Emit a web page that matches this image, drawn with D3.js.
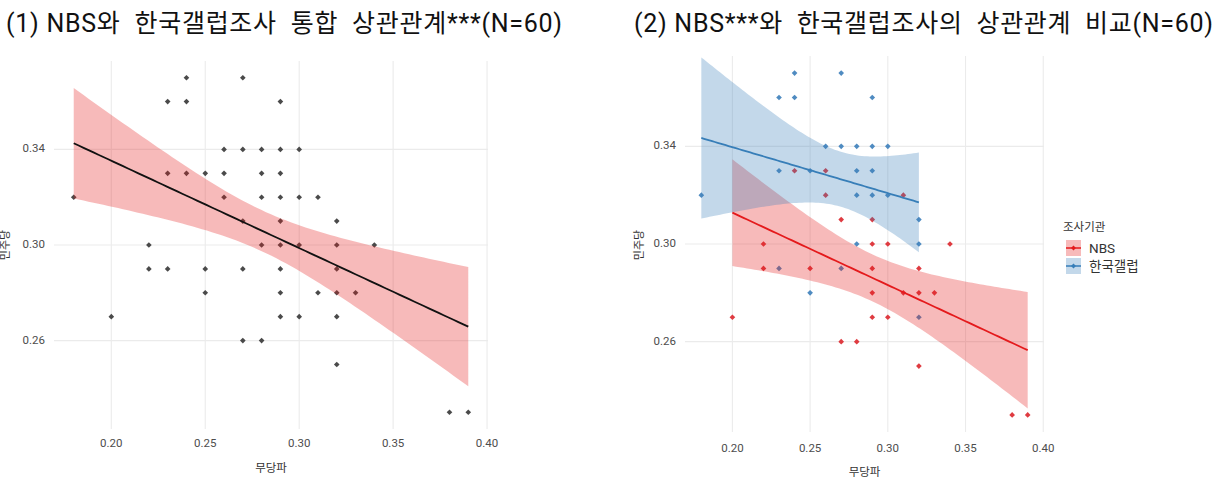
<!DOCTYPE html>
<html><head><meta charset="utf-8">
<script src="https://cdn.jsdelivr.net/npm/d3@7"></script>
<style>
body{margin:0;background:#fff;}
svg{display:block;font-family:Roboto,"Noto Sans CJK KR",sans-serif;}
</style></head>
<body><svg id="c" width="1222" height="481"></svg>
<script>
// 무당파 (x) and 민주당 (y) per survey
const nbsX = [0.24,0.26,0.26,0.31,0.27,0.29,0.22,0.29,0.30,0.34,0.22,0.25,0.29,0.32,0.29,0.31,0.32,0.33,0.20,0.29,0.30,0.27,0.28,0.32,0.38,0.39];
const nbsY = [0.33,0.33,0.32,0.32,0.31,0.31,0.30,0.30,0.30,0.30,0.29,0.29,0.29,0.29,0.28,0.28,0.28,0.28,0.27,0.27,0.27,0.26,0.26,0.25,0.23,0.23];
const galX = [0.24,0.27,0.23,0.24,0.29,0.26,0.27,0.28,0.29,0.30,0.23,0.25,0.28,0.29,0.18,0.28,0.29,0.30,0.32,0.28,0.32,0.23,0.27,0.25,0.32];
const galY = [0.37,0.37,0.36,0.36,0.36,0.34,0.34,0.34,0.34,0.34,0.33,0.33,0.33,0.33,0.32,0.32,0.32,0.32,0.31,0.30,0.30,0.29,0.29,0.28,0.27];
const groups = ["NBS","한국갤럽"];
const xTicks = [0.20,0.25,0.30,0.35,0.40];
const yTicks = [0.26,0.30,0.34];
const titles = ["(1) NBS와  한국갤럽조사  통합  상관관계***(N=60)","(2) NBS***와  한국갤럽조사의  상관관계  비교(N=60)"];

const svg = d3.select("#c");
const RED="#E41A1C", BLUE="#377EB8";

function tq(df){ // 0.975 quantile of t
  const z=1.959964;
  return z+(z**3+z)/(4*df)+(5*z**5+16*z**3+3*z)/(96*df*df)+(3*z**7+19*z**5+17*z**3-15*z)/(384*df**3);
}
function fit(xs,ys){
  const n=xs.length, mx=d3.mean(xs), my=d3.mean(ys);
  let sxx=0,sxy=0; xs.forEach((x,i)=>{sxx+=(x-mx)**2; sxy+=(x-mx)*(ys[i]-my);});
  const b=sxy/sxx, a=my-b*mx;
  let sse=0; xs.forEach((x,i)=>{sse+=(ys[i]-a-b*x)**2;});
  const s=Math.sqrt(sse/(n-2)), t=tq(n-2);
  const [x0,x1]=d3.extent(xs);
  return d3.range(0,81).map(k=>{const x=x0+(x1-x0)*k/80; const y=a+b*x; const se=s*Math.sqrt(1/n+(x-mx)**2/sxx); return {x,y,lo:y-t*se,hi:y+t*se};});
}

function panel(px0,px1,py0,py1,opts){
  const x=d3.scaleLinear().domain([0.1695,0.4005]).range([px0,px1]);
  const y=d3.scaleLinear().domain([0.223,0.377]).range([py1,py0]);
  const g=svg.append("g");
  g.selectAll(".gx").data(xTicks).join("line").attr("x1",d=>x(d)).attr("x2",d=>x(d)).attr("y1",py0).attr("y2",py1).attr("stroke","#ebebeb").attr("stroke-width",1.1);
  g.selectAll(".gy").data(yTicks).join("line").attr("x1",px0).attr("x2",px1).attr("y1",d=>y(d)).attr("y2",d=>y(d)).attr("stroke","#ebebeb").attr("stroke-width",1.1);
  g.selectAll(".tx").data(xTicks).join("text").attr("x",d=>x(d)).attr("y",py1+opts.tickDy).attr("text-anchor","middle").attr("dominant-baseline","middle").attr("font-size",11.5).attr("fill","#4d4d4d").text(d=>d3.format(".2f")(d));
  g.selectAll(".ty").data(yTicks).join("text").attr("x",px0-9).attr("y",d=>y(d)).attr("text-anchor","end").attr("dominant-baseline","middle").attr("font-size",11.5).attr("fill","#4d4d4d").text(d=>d3.format(".2f")(d));
  g.append("text").attr("x",(px0+px1)/2).attr("y",opts.xTitleY).attr("text-anchor","middle").attr("dominant-baseline","middle").attr("font-size",11.5).attr("fill","#333").text("무당파");
  g.append("text").attr("transform",`translate(${opts.yTitleX},245) rotate(-90)`).attr("text-anchor","middle").attr("dominant-baseline","middle").attr("font-size",11).attr("fill","#333").text("민주당");
  const diamond=d3.symbol().type(d3.symbolSquare).size(16);
  opts.series.forEach(s=>{
    g.append("g").selectAll("path").data(s.xs.map((v,i)=>[v,s.ys[i]])).join("path")
      .attr("d",diamond).attr("transform",d=>`translate(${x(d[0])},${y(d[1])}) rotate(45)`).attr("fill",s.pt);
  });
  opts.series.forEach(s=>{
    const f=fit(s.fx,s.fy);
    g.append("path").datum(f).attr("d",d3.area().x(d=>x(d.x)).y0(d=>y(d.lo)).y1(d=>y(d.hi))).attr("fill",s.band).attr("fill-opacity",0.3);
  });
  opts.series.forEach(s=>{
    const f=fit(s.fx,s.fy);
    g.append("path").datum(f).attr("d",d3.line().x(d=>x(d.x)).y(d=>y(d.y))).attr("fill","none").attr("stroke",s.line).attr("stroke-width",1.8);
  });
}

const allX=nbsX.concat(galX), allY=nbsY.concat(galY);
panel(54,488,61,429,{tickDy:15,xTitleY:469,yTitleX:6,series:[
  {xs:allX,ys:allY,fx:allX,fy:allY,pt:"#4a4a4a",band:RED,line:"#111"}]});
panel(685,1044,56,432,{tickDy:17,xTitleY:473,yTitleX:640,series:[
  {xs:nbsX,ys:nbsY,fx:nbsX,fy:nbsY,pt:"#df3b41",band:RED,line:RED},
  {xs:galX,ys:galY,fx:galX,fy:galY,pt:"#4f8bc1",band:BLUE,line:BLUE}]});

// titles
svg.append("text").attr("x",6).attr("y",32).attr("font-size",25).attr("fill","#111").attr("textLength",556).attr("lengthAdjust","spacing").style("white-space","pre").text(titles[0]);
svg.append("text").attr("x",634).attr("y",32).attr("font-size",25).attr("fill","#111").attr("textLength",579).attr("lengthAdjust","spacing").style("white-space","pre").text(titles[1]);

// legend
const lg=svg.append("g");
lg.append("text").attr("x",1063).attr("y",228).attr("dominant-baseline","middle").attr("font-size",11.5).attr("fill","#333").text("조사기관");
const cols=[RED,BLUE];
groups.forEach((gname,i)=>{
  const cy=248+i*18;
  lg.append("rect").attr("x",1066).attr("y",cy-8).attr("width",15).attr("height",16).attr("fill",cols[i]).attr("fill-opacity",0.3);
  lg.append("line").attr("x1",1066).attr("x2",1081).attr("y1",cy).attr("y2",cy).attr("stroke",cols[i]).attr("stroke-width",1.5);
  lg.append("path").attr("d",d3.symbol().type(d3.symbolSquare).size(12)).attr("transform",`translate(1073.5,${cy}) rotate(45)`).attr("fill",cols[i]);
  lg.append("text").attr("x",1089).attr("y",cy+1).attr("dominant-baseline","middle").attr("font-size",13.5).attr("fill","#333").text(gname);
});
</script></body></html>
